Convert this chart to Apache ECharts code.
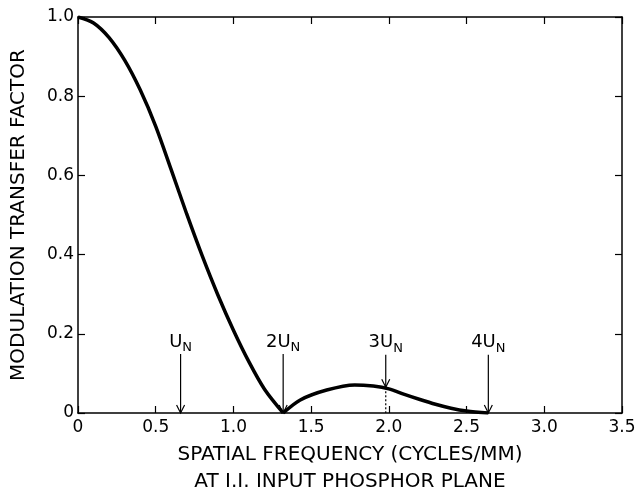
<!DOCTYPE html>
<html>
<head>
<meta charset="utf-8">
<script src="https://cdn.jsdelivr.net/npm/echarts@6/dist/echarts.min.js"></script>
<style>html,body{margin:0;padding:0;background:#fff}#c{width:636px;height:499px}</style>
</head>
<body>
<div id="c"></div>
<script>
// MTF curve, main lobe (0 -> 2U_N)
const mainLobeX = [0, 0.1, 0.2, 0.3, 0.4, 0.5, 0.6, 0.7, 0.8, 0.9, 1.0, 1.1, 1.2, 1.32];
const mainLobeY = [1.0, 0.985, 0.948, 0.891, 0.816, 0.724, 0.614, 0.502, 0.396, 0.298, 0.209, 0.129, 0.060, 0.0];
// MTF curve, side lobe (2U_N -> 4U_N)
const sideLobeX = [1.32, 1.43, 1.6, 1.78, 1.9, 2.0, 2.1, 2.2, 2.3, 2.4, 2.5, 2.64];
const sideLobeY = [0.0, 0.033, 0.058, 0.071, 0.068, 0.061, 0.047, 0.034, 0.022, 0.012, 0.005, 0.0];
// Arrow markers at multiples of the Nyquist frequency
const arrowX = [0.66, 1.32, 1.98, 2.64];
const arrowTop = [0.149, 0.149, 0.147, 0.147];
const arrowTip = [0, 0, 0.065, 0];
const arrowPrefix = ['', '2', '3', '4'];
// Axis ticks
const xTicks = [0, 0.5, 1.0, 1.5, 2.0, 2.5, 3.0, 3.5];
const yTicks = [0, 0.2, 0.4, 0.6, 0.8, 1.0];

const FONT = 'DejaVu Sans';
const chart = echarts.init(document.getElementById('c'), null, {renderer: 'canvas'});
const fmt = v => (v === 0 ? '0' : v.toFixed(1));
const axisLine = {show: true, onZero: false, lineStyle: {color: '#000', width: 1.5}};
const tick = {show: true, inside: true, length: 7, lineStyle: {color: '#000', width: 1.2}};

chart.setOption({
  backgroundColor: '#fff',
  animation: false,
  grid: {left: 78, right: 14, top: 17, bottom: 86, containLabel: false, outerBoundsMode: 'none'},
  xAxis: [{
    type: 'value', min: xTicks[0], max: xTicks[xTicks.length - 1], interval: 0.5,
    position: 'bottom',
    axisLine, axisTick: tick, splitLine: {show: false},
    axisLabel: {formatter: fmt, color: '#000', fontFamily: FONT, fontSize: 17, margin: 6},
    name: 'SPATIAL FREQUENCY (CYCLES/MM)\nAT I.I. INPUT PHOSPHOR PLANE',
    nameLocation: 'middle', nameGap: 26,
    nameTextStyle: {color: '#000', fontFamily: FONT, fontSize: 20, lineHeight: 27, verticalAlign: 'top'}
  }, {
    type: 'value', min: xTicks[0], max: xTicks[xTicks.length - 1], interval: 0.5, position: 'top',
    axisLine, axisTick: tick, axisLabel: {show: false}, splitLine: {show: false}
  }],
  yAxis: [{
    type: 'value', min: yTicks[0], max: yTicks[yTicks.length - 1], interval: 0.2,
    position: 'left',
    axisLine, axisTick: tick, splitLine: {show: false},
    axisLabel: {formatter: fmt, color: '#000', fontFamily: FONT, fontSize: 17, margin: 4},
    name: 'MODULATION TRANSFER FACTOR', nameLocation: 'middle', nameGap: 49,
    nameTextStyle: {color: '#000', fontFamily: FONT, fontSize: 20}
  }, {
    type: 'value', min: yTicks[0], max: yTicks[yTicks.length - 1], interval: 0.2, position: 'right',
    axisLine, axisTick: tick, axisLabel: {show: false}, splitLine: {show: false}
  }],
  series: [{
    type: 'line', data: mainLobeX.map((x, i) => [x, mainLobeY[i]]),
    smooth: 0.3, showSymbol: false, symbol: 'none',
    lineStyle: {color: '#000', width: 3.5}, z: 5
  }, {
    type: 'line', data: sideLobeX.map((x, i) => [x, sideLobeY[i]]),
    smooth: 0.3, showSymbol: false, symbol: 'none',
    lineStyle: {color: '#000', width: 3.5}, z: 5
  }, {
    type: 'custom',
    data: arrowX.map((x, i) => [x, arrowTop[i], arrowTip[i]]),
    renderItem: function (params, api) {
      const top = api.coord([api.value(0), api.value(1)]);
      const tip = api.coord([api.value(0), api.value(2)]);
      const base = api.coord([api.value(0), 0]);
      const children = [
        {type: 'line', shape: {x1: top[0], y1: top[1], x2: tip[0], y2: tip[1]},
         style: {stroke: '#000', lineWidth: 1.2}},
        {type: 'polyline', shape: {points: [[tip[0] - 4, tip[1] - 8], [tip[0], tip[1]], [tip[0] + 4, tip[1] - 8]]},
         style: {stroke: '#000', lineWidth: 1.2, fill: null}}
      ];
      if (api.value(2) > 0) {
        children.push({type: 'line', shape: {x1: tip[0], y1: tip[1], x2: base[0], y2: base[1]},
          style: {stroke: '#000', lineWidth: 1.2, lineDash: [2, 2]}});
      }
      return {type: 'group', children};
    },
    z: 6
  }, {
    type: 'scatter',
    data: arrowX.map((x, i) => [x, arrowTop[i]]),
    symbol: 'circle', symbolSize: 0, itemStyle: {color: '#000', opacity: 1},
    label: {
      show: true, position: 'top', distance: 0, color: '#000', opacity: 1,
      formatter: p => '{a|' + arrowPrefix[p.dataIndex] + 'U}{b|N}',
      rich: {
        a: {fontFamily: FONT, fontSize: 18, color: '#000', lineHeight: 24},
        b: {fontFamily: FONT, fontSize: 13, color: '#000', verticalAlign: 'bottom', lineHeight: 13}
      }
    },
    z: 7
  }]
});
</script>
</body>
</html>
